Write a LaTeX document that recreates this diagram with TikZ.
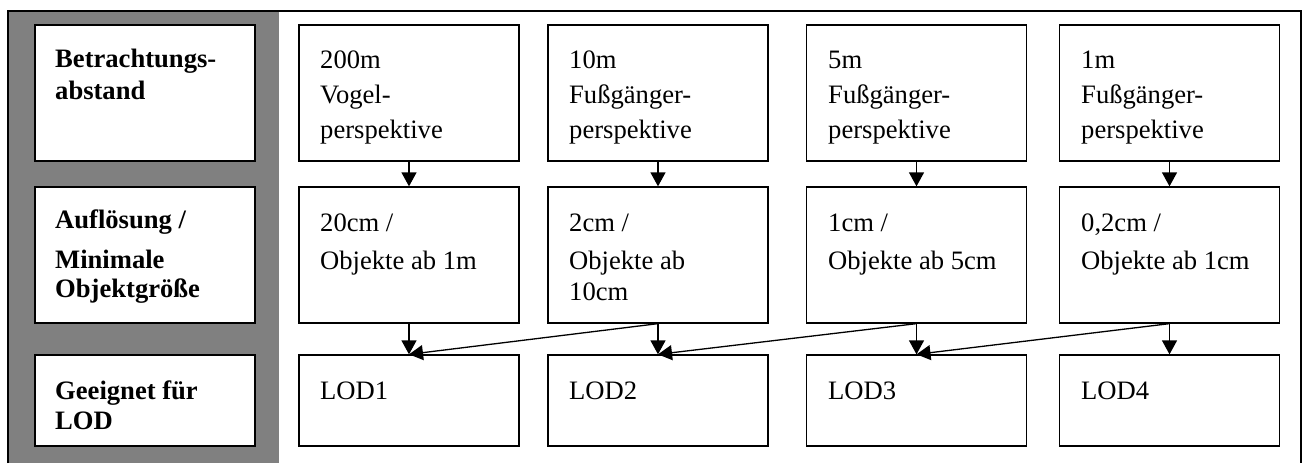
\documentclass[tikz,border=0pt]{standalone}
\usepackage{fontspec}
\setmainfont{Liberation Serif}
\usetikzlibrary{arrows.meta}
\definecolor{sidegray}{RGB}{128,128,128}
\newcommand\stk[2]{\vtop{\baselineskip=#1pt\lineskip=0pt\lineskiplimit=-100pt #2}}
\newcommand\Tl[1]{\hbox{#1}}
\begin{document}
\begin{tikzpicture}[x=1pt,y=-1pt,
  box/.style={draw=black, line width=1.3pt, inner sep=0pt, fill=white},
  wide/.style={minimum width=220pt},
  tall/.style={minimum height=136pt},
  short/.style={minimum height=91pt},
  txt/.style={anchor=base west, inner sep=0pt, font=\fontsize{26.6}{32}\selectfont},
  frame/.style={draw=black, line width=1.8pt},
  arr/.style={-{Triangle[length=14pt,width=15pt]}, line width=1.3pt}]
\useasboundingbox (0,0) rectangle (1305,463);
\fill[sidegray] (8,11) rectangle (279,463);
\draw[frame] (8,463) -- (8,11) -- (1301,11) -- (1301,463);

% left header boxes
\node[box,wide,tall]  (L1) at (145,93) {};
\node[box,wide,tall]  (L2) at (145,255) {};
\node[box,wide,short] (L3) at (145,400.5) {};
% column boxes
\node[box,wide,tall]  (A1) at (409,93) {};
\node[box,wide,tall]  (A2) at (409,255) {};
\node[box,wide,short] (A3) at (409,400.5) {};
\node[box,wide,tall]  (B1) at (658,93) {};
\node[box,wide,tall]  (B2) at (658,255) {};
\node[box,wide,short] (B3) at (658,400.5) {};
\node[box,wide,tall]  (C1) at (916.5,93) {};
\node[box,wide,tall]  (C2) at (916.5,255) {};
\node[box,wide,short] (C3) at (916.5,400.5) {};
\node[box,wide,tall]  (D1) at (1169.5,93) {};
\node[box,wide,tall]  (D2) at (1169.5,255) {};
\node[box,wide,short] (D3) at (1169.5,400.5) {};

% left texts
\node[txt] (tL1) at (55,67) {\bfseries\stk{32}{\Tl{Betrachtungs-}\Tl{abstand}}};
\node[txt] (tL2) at (55,228) {\bfseries\stk{40}{\Tl{Auflösung /}\Tl{Minimale}\vskip-11pt\Tl{Objektgröße}}};
\node[txt] (tL3) at (55,399) {\bfseries\stk{30}{\Tl{Geeignet für}\Tl{LOD}}};

% row 1 texts
\node[txt] (tA1) at (320,68) {\stk{35}{\Tl{200m}\Tl{Vogel-}\Tl{perspektive}}};
\node[txt] (tB1) at (569,68) {\stk{35}{\Tl{10m}\Tl{Fußgänger-}\Tl{perspektive}}};
\node[txt] (tC1) at (828,68) {\stk{35}{\Tl{5m}\Tl{Fußgänger-}\Tl{perspektive}}};
\node[txt] (tD1) at (1081,68) {\stk{35}{\Tl{1m}\Tl{Fußgänger-}\Tl{perspektive}}};

% row 2 texts
\node[txt] (tA2) at (320,231) {\stk{38}{\Tl{20cm /}\Tl{Objekte ab 1m}}};
\node[txt] (tB2) at (569,231) {\stk{38}{\Tl{2cm /}\Tl{Objekte ab}\vskip-7pt\Tl{10cm}}};
\node[txt] (tC2) at (828,231) {\stk{38}{\Tl{1cm /}\Tl{Objekte ab 5cm}}};
\node[txt] (tD2) at (1081,231) {\stk{38}{\Tl{0,2cm /}\Tl{Objekte ab 1cm}}};

% row 3 texts
\node[txt] (tA3) at (320,399) {LOD1};
\node[txt] (tB3) at (569,399) {LOD2};
\node[txt] (tC3) at (828,399) {LOD3};
\node[txt] (tD3) at (1081,399) {LOD4};

% arrows
\foreach \c in {A,B,C,D}{
  \draw[arr] (\c1.south) -- (\c2.north);
  \draw[arr] (\c2.south) -- (\c3.north);
}
\draw[arr] (B2.south) -- (A3.north);
\draw[arr] (C2.south) -- (B3.north);
\draw[arr] (D2.south) -- (C3.north);
\end{tikzpicture}
\end{document}
